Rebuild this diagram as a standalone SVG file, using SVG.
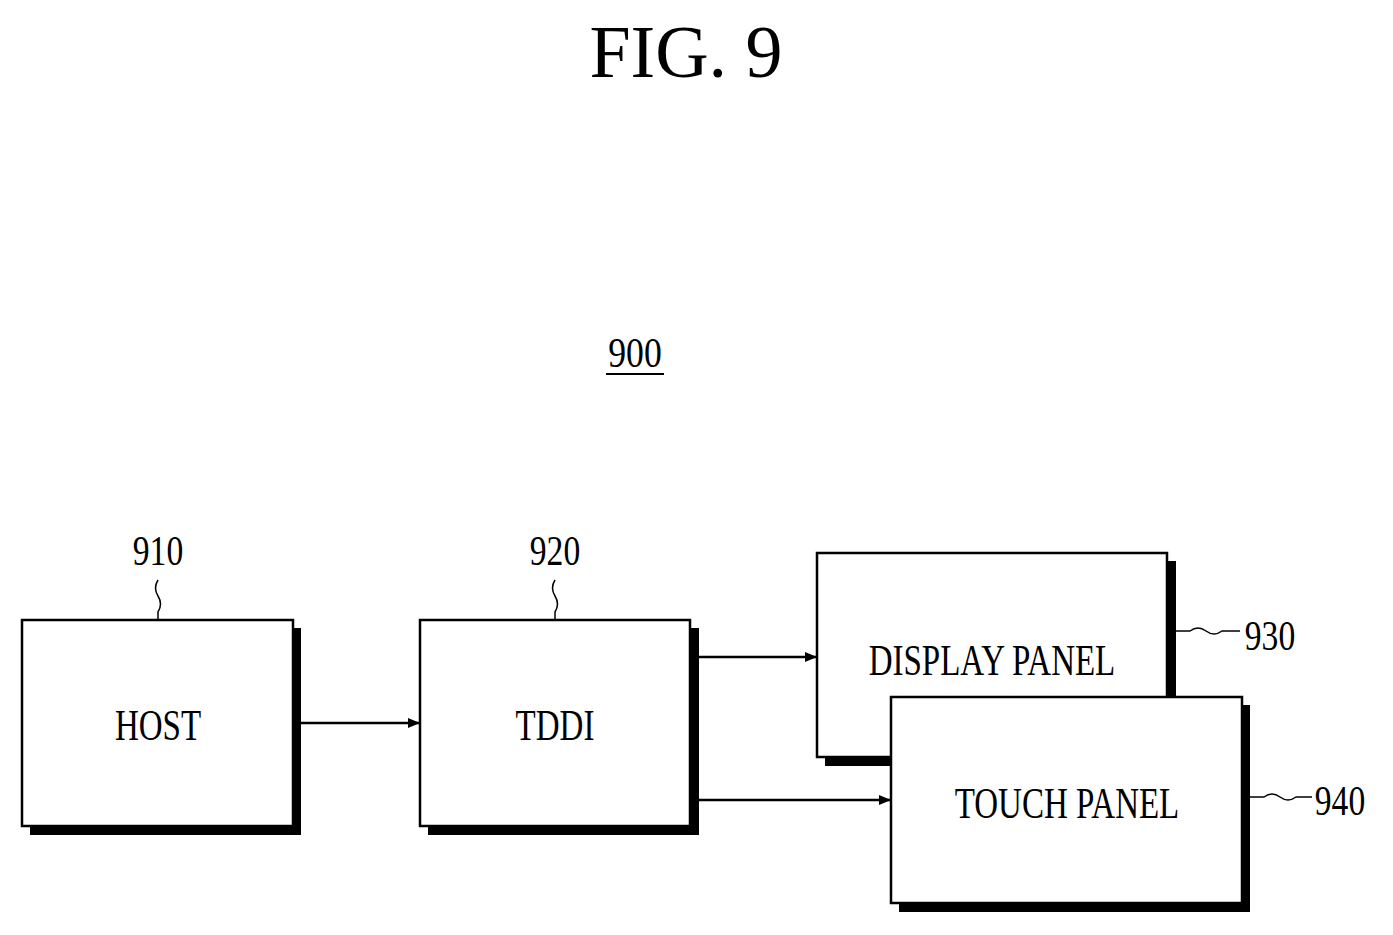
<svg xmlns="http://www.w3.org/2000/svg" width="1393" height="935" viewBox="0 0 1393 935">
<style>
.box{fill:#fff;stroke:#000;stroke-width:2.5}
.sh{fill:#000}
.t{font-family:"Liberation Serif",serif;font-size:44px;text-anchor:middle}
.n{font-family:"Liberation Serif",serif;font-size:42px;text-anchor:middle}
.ln{stroke:#000;stroke-width:2.5;fill:none}
.sq{stroke:#000;stroke-width:1.5;fill:none}
</style>
<defs><marker id="a" markerWidth="12" markerHeight="10" refX="12" refY="5" orient="auto" markerUnits="userSpaceOnUse"><path d="M0,0L12,5L0,10z"/></marker></defs>
<rect width="1393" height="935" fill="#fff"/>
<text x="686" y="77" font-family="Liberation Serif,serif" font-size="74" text-anchor="middle">FIG. 9</text>
<text class="n" x="635" y="367" transform="translate(635 0) scale(0.85 1) translate(-635 0)">900</text>
<line x1="606" y1="374" x2="664" y2="374" stroke="#000" stroke-width="2"/>
<g id="host"><rect class="sh" x="30" y="628" width="271" height="207"/><rect class="box" x="22" y="620" width="271" height="206"/><text class="t" x="158" y="740" transform="translate(158 0) scale(0.75 1) translate(-158 0)">HOST</text>
<text class="n" x="158" y="565" transform="translate(158 0) scale(0.8 1) translate(-158 0)">910</text><path class="sq" d="M158,580 q-5,8 0,16 q5,8 0,16 v8"/></g>
<g id="tddi"><rect class="sh" x="428" y="628" width="271" height="207"/><rect class="box" x="420" y="620" width="270" height="206"/><text class="t" x="555" y="740" transform="translate(555 0) scale(0.75 1) translate(-555 0)">TDDI</text>
<text class="n" x="555" y="565" transform="translate(555 0) scale(0.8 1) translate(-555 0)">920</text><path class="sq" d="M555,580 q-5,8 0,16 q5,8 0,16 v8"/></g>
<g id="display"><rect class="sh" x="825" y="561" width="351" height="205"/><rect class="box" x="817" y="553" width="350" height="204"/><text class="t" x="992" y="675" transform="translate(992 0) scale(0.75 1) translate(-992 0)">DISPLAY PANEL</text>
<text class="n" x="1270" y="650" transform="translate(1270 0) scale(0.8 1) translate(-1270 0)">930</text><path class="sq" d="M1176,631 h14 q8,-6 16,0 q8,6 16,0 h18"/></g>
<g id="touch"><rect class="sh" x="899" y="705" width="351" height="207"/><rect class="box" x="891" y="697" width="351" height="206"/><text class="t" x="1067" y="818" transform="translate(1067 0) scale(0.75 1) translate(-1067 0)">TOUCH PANEL</text>
<text class="n" x="1340" y="815" transform="translate(1340 0) scale(0.8 1) translate(-1340 0)">940</text><path class="sq" d="M1250,797 h14 q8,-6 16,0 q8,6 16,0 h16"/></g>
<g id="connectors">
<line class="ln" x1="301" y1="723" x2="420" y2="723" marker-end="url(#a)"/>
<line class="ln" x1="699" y1="657" x2="817" y2="657" marker-end="url(#a)"/>
<line class="ln" x1="699" y1="800" x2="891" y2="800" marker-end="url(#a)"/>
</g>
</svg>
